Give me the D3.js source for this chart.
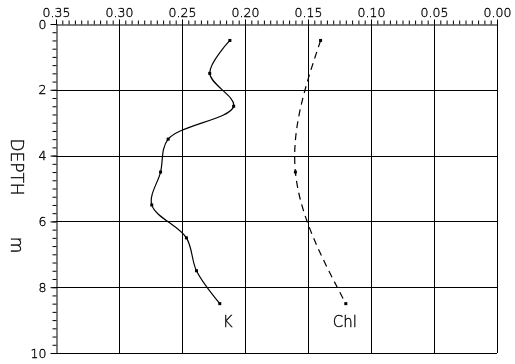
<!DOCTYPE html>
<html>
<head>
<meta charset="utf-8">
<script src="https://cdn.jsdelivr.net/npm/d3@7"></script>
<style>
  html, body { margin: 0; padding: 0; background: #fff; }
  svg { display: block; will-change: transform; }
  text { font-family: "DejaVu Sans", sans-serif; font-weight: 200; fill: #000; stroke: #000; stroke-width: 0.35px; }
</style>
</head>
<body>
<svg id="chart" width="515" height="364"></svg>
<script>
// ---- data ----
const depthK = [0.5, 1.5, 2.5, 3.5, 4.5, 5.5, 6.5, 7.5, 8.5];
const valuesK = [0.212, 0.228, 0.209, 0.261, 0.267, 0.274, 0.2465, 0.2385, 0.220];
const depthChl = [0.5, 4.5, 8.5];
const valuesChl = [0.140, 0.160, 0.120];
const xMajorTicks = [0.35, 0.30, 0.25, 0.20, 0.15, 0.10, 0.05, 0.00];
const yMajorTicks = [0, 2, 4, 6, 8, 10];
const seriesLabels = ["K", "Chl"];

const svg = d3.select("#chart");
const mLeft = 56, mRight = 497, mTop = 24, mBottom = 353;

const x = d3.scaleLinear().domain([0.35, 0]).range([mLeft, mRight]);
const y = d3.scaleLinear().domain([0, 10]).range([mTop, mBottom]);

// grid lines
const grid = svg.append("g").attr("stroke", "#000").attr("stroke-width", 1).attr("shape-rendering", "crispEdges");
grid.selectAll("line.v").data(xMajorTicks.filter(d => d !== 0.35)).enter().append("line")
  .attr("x1", d => Math.round(x(d)) + 0.5).attr("x2", d => Math.round(x(d)) + 0.5)
  .attr("y1", mTop).attr("y2", mBottom);
grid.selectAll("line.h").data(yMajorTicks.filter(d => d !== 0)).enter().append("line")
  .attr("y1", d => Math.round(y(d)) + 0.5).attr("y2", d => Math.round(y(d)) + 0.5)
  .attr("x1", mLeft).attr("x2", mRight);

// x minor ticks
const xMinor = d3.range(0, 71).map(i => i * 0.005);
svg.append("g").attr("transform", `translate(0,${mTop + 0.5})`)
  .call(d3.axisTop(x).tickValues(xMinor).tickSize(4).tickFormat(""))
  .call(g => g.select(".domain").remove())
  .call(g => g.selectAll("line").attr("stroke", "#000"));
// x major axis
svg.append("g").attr("transform", `translate(0,${mTop + 0.5})`)
  .call(d3.axisTop(x).tickValues(xMajorTicks).tickSize(5).tickSizeOuter(0).tickPadding(3).tickFormat(d3.format(".2f")))
  .call(g => g.select(".domain").attr("stroke", "#000"))
  .call(g => g.selectAll("line").attr("stroke", "#000"))
  .call(g => g.selectAll("text").attr("font-size", 12.5).attr("font-family", null));

// y minor ticks
const yMinor = d3.range(0, 41).map(i => i * 0.25);
svg.append("g").attr("transform", `translate(${mLeft + 0.5},0)`)
  .call(d3.axisLeft(y).tickValues(yMinor).tickSize(4).tickFormat(""))
  .call(g => g.select(".domain").remove())
  .call(g => g.selectAll("line").attr("stroke", "#000"));
// y major axis
svg.append("g").attr("transform", `translate(${mLeft + 0.5},0)`)
  .call(d3.axisLeft(y).tickValues(yMajorTicks).tickSize(6).tickSizeOuter(0).tickPadding(4).tickFormat(d3.format("d")))
  .call(g => g.select(".domain").attr("stroke", "#000"))
  .call(g => g.selectAll("line").attr("stroke", "#000"))
  .call(g => g.selectAll("text").attr("font-size", 12.5).attr("font-family", null));

// axis title
svg.append("text").attr("transform", "translate(11,167) rotate(90)")
  .attr("text-anchor", "middle").attr("font-size", 17).text("DEPTH");
svg.append("text").attr("transform", "translate(11,245) rotate(90)")
  .attr("text-anchor", "middle").attr("font-size", 17).text("m");

// series
const kData = depthK.map((d, i) => ({ d, v: valuesK[i] }));
const chlData = depthChl.map((d, i) => ({ d, v: valuesChl[i] }));
const line = d3.line().x(p => x(p.v)).y(p => y(p.d)).curve(d3.curveCatmullRom.alpha(0.5));

svg.append("path").datum(kData).attr("d", line)
  .attr("fill", "none").attr("stroke", "#000").attr("stroke-width", 1.2);
svg.append("path").datum(chlData).attr("d", line.curve(d3.curveNatural))
  .attr("fill", "none").attr("stroke", "#000").attr("stroke-width", 1.2).attr("stroke-dasharray", "7,5");

svg.selectAll("rect.k").data(kData.concat(chlData)).enter().append("rect")
  .attr("x", p => x(p.v) - 1.5).attr("y", p => y(p.d) - 1.5)
  .attr("width", 3).attr("height", 3).attr("fill", "#000");

// labels
svg.append("text").attr("x", x(valuesK[valuesK.length - 1]) + 3).attr("y", y(depthK[depthK.length - 1]) + 23)
  .attr("font-size", 15).text(seriesLabels[0]);
svg.append("text").attr("x", x(valuesChl[valuesChl.length - 1]) - 13).attr("y", y(depthChl[depthChl.length - 1]) + 23)
  .attr("font-size", 15).text(seriesLabels[1]);
</script>
</body>
</html>
